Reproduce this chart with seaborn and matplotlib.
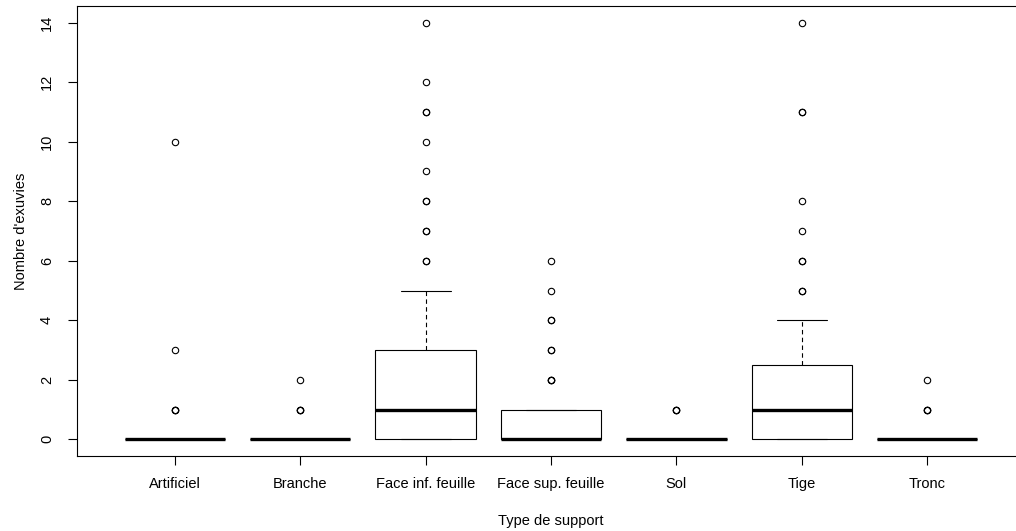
import numpy as np
import pandas as pd
import matplotlib
matplotlib.use("Agg")
import matplotlib.pyplot as plt
import seaborn as sns

# Categories (x axis)
categories = ["Artificiel", "Branche", "Face inf. feuille", "Face sup. feuille",
              "Sol", "Tige", "Tronc"]

# Observed counts per support type, given as (value, number of observations)
artificiel = [(0, 40), (1, 3), (3, 1), (10, 1)]
branche = [(0, 30), (1, 3), (2, 1)]
face_inf = [(0, 25), (1, 17), (2, 12), (3, 10), (4, 3), (5, 2),
            (6, 2), (7, 2), (8, 2), (9, 1), (10, 1), (11, 2), (12, 1), (14, 1)]
face_sup = [(0, 24), (1, 10), (2, 3), (3, 2), (4, 2), (5, 1), (6, 1)]
sol = [(0, 30), (1, 3)]
tige = [(0, 22), (1, 20), (2, 17), (3, 8), (4, 3),
        (5, 2), (6, 2), (7, 1), (8, 1), (11, 2), (14, 1)]
tronc = [(0, 35), (1, 3), (2, 1)]

series = [artificiel, branche, face_inf, face_sup, sol, tige, tronc]
y_ticks = [0, 2, 4, 6, 8, 10, 12, 14]

rows = []
for cat, ser in zip(categories, series):
    for val, n in ser:
        rows.extend([(cat, val)] * n)
df = pd.DataFrame(rows, columns=["Type de support", "Nombre d'exuvies"])

sns.set_theme(style="white")
plt.rcParams["font.family"] = ["Liberation Sans", "DejaVu Sans"]

fig = plt.figure(figsize=(10.16, 5.31), dpi=100)
ax = fig.add_axes([77 / 1016, 75 / 531, 948 / 1016, 450 / 531])

sns.boxplot(data=df, x="Type de support", y="Nombre d'exuvies", order=categories,
            ax=ax, whis=0.8, width=0.8, color="white", linecolor="black",
            saturation=1, linewidth=0.8, legend=False,
            medianprops=dict(color="black", linewidth=2.4, solid_capstyle="butt"),
            whiskerprops=dict(color="black", linewidth=0.8, linestyle=(0, (4, 3))),
            capprops=dict(color="black", linewidth=0.8),
            boxprops=dict(edgecolor="black", facecolor="white", linewidth=0.8),
            flierprops=dict(marker="o", markerfacecolor="none",
                            markeredgecolor="black", markersize=4.6,
                            markeredgewidth=0.8, linestyle="none"))

ax.set_xlim(-0.78, 6.78)
ax.set_ylim(-0.56, 14.56)
ax.set_yticks(y_ticks)
ax.set_yticklabels([str(v) for v in y_ticks], rotation=90, va="center")
ax.tick_params(axis="both", which="both", direction="out", length=6.5,
               width=0.8, color="black", labelsize=10.5, labelcolor="black")
ax.tick_params(axis="x", pad=8.5, bottom=True)
ax.tick_params(axis="y", pad=10, left=True)

for s in ax.spines.values():
    s.set_visible(True)
    s.set_color("black")
    s.set_linewidth(0.8)

ax.set_xlabel("Type de support", fontsize=10.5, color="black", labelpad=16.5)
ax.set_ylabel("Nombre d'exuvies", fontsize=10.5, color="black", labelpad=9)
ax.grid(False)

fig.savefig("out.png", dpi=100)
